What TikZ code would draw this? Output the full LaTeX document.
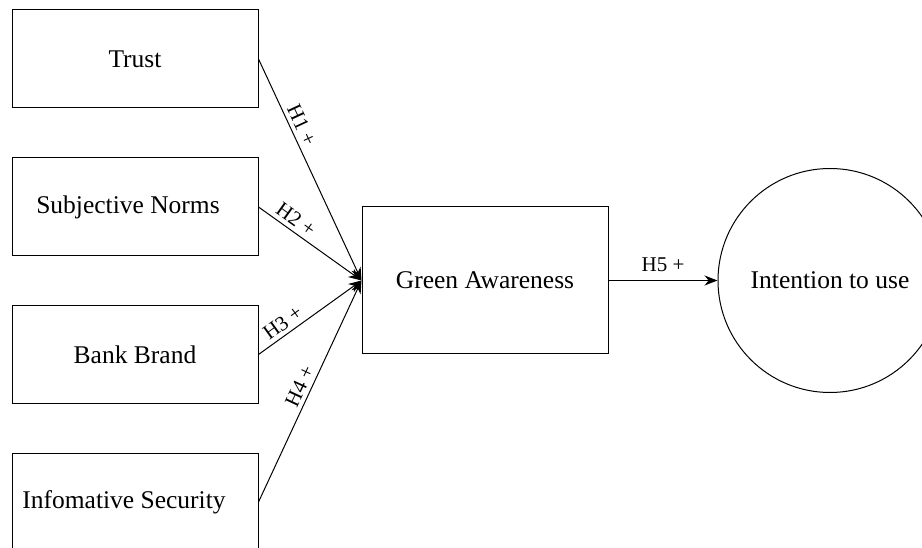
\documentclass[tikz,border=0pt]{standalone}
\usepackage{fontspec}
\setmainfont{Liberation Serif}
\usetikzlibrary{arrows.meta}
\begin{document}
\begin{tikzpicture}[x=1pt,y=-1pt,
  box/.style={draw,line width=1pt,minimum width=246pt,minimum height=98pt,inner sep=0pt,font=\fontsize{25.5}{30}\selectfont},
  link/.style={line width=1pt,-{Stealth[length=13pt,width=10pt]}},
  hyp/.style={font=\fontsize{21}{24}\selectfont,sloped,above,inner sep=4pt}]
\useasboundingbox (0,0) rectangle (922,548);
\node[box] (trust) at (135,59) {Trust};
\node[box] (sn) at (135,207) {\hspace*{-14pt}Subjective Norms};
\node[box] (bb) at (135,354.5) {Bank Brand};
\node[box] (is) at (135,502) {\hspace*{-22pt}Infomative Security};
\node[box,minimum height=147pt] (ga) at (485,280.5) {Green Awareness};
\node[draw,circle,line width=1pt,minimum size=224pt,inner sep=0pt,font=\fontsize{25.5}{30}\selectfont] (itu) at (830,280.5) {Intention to use};
\draw[link] (trust.east) -- node[hyp,pos=0.32] {H1 +} (ga.west);
\draw[link] (sn.east) -- node[hyp,pos=0.3] {H2 +} (ga.west);
\draw[link] (bb.east) -- node[hyp,pos=0.3] {H3 +} (ga.west);
\draw[link] (is.east) -- node[hyp,pos=0.5] {H4 +} (ga.west);
\draw[link] (ga.east) -- node[hyp,inner sep=8pt] {H5 +} (itu.west);
\end{tikzpicture}
\end{document}
